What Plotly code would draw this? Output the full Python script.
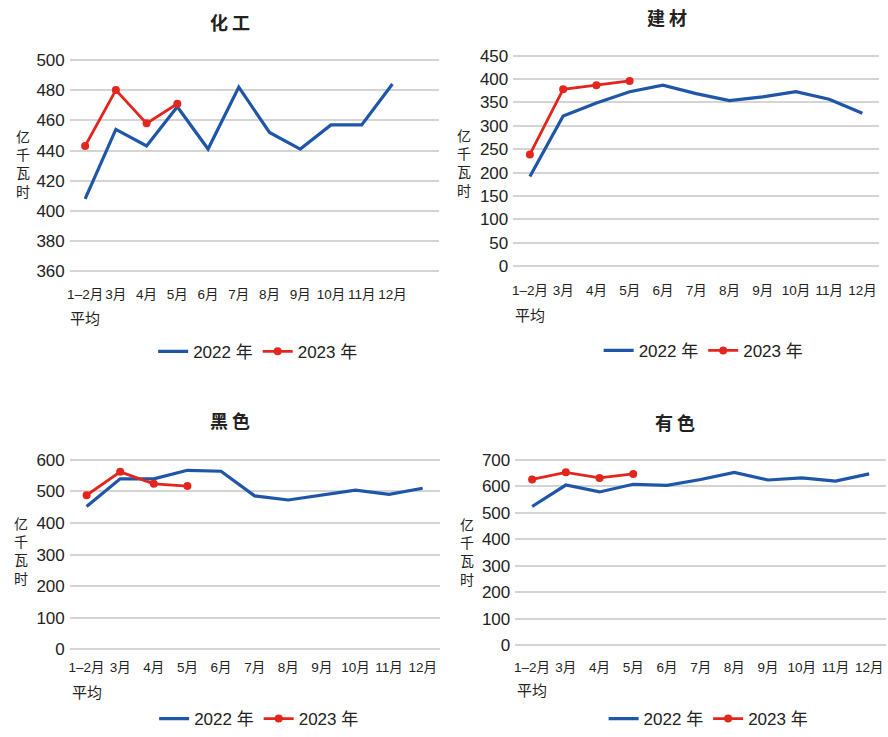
import plotly.graph_objects as go

# Monthly electricity consumption by industry (亿千瓦时)
months = ["1–2月", "3月", "4月", "5月", "6月", "7月", "8月", "9月", "10月", "11月", "12月"]
months_2023 = months[:4]

chem_2022 = [408, 454, 443, 469, 441, 482, 452, 441, 457, 457, 484]
chem_2023 = [443, 480, 458, 471]

build_2022 = [192, 321, 349, 373, 387, 369, 354, 362, 373, 357, 327]
build_2023 = [239, 378, 387, 396]

ferrous_2022 = [452, 540, 540, 567, 564, 486, 473, 488, 504, 491, 510]
ferrous_2023 = [488, 562, 524, 517]

nonferrous_2022 = [524, 605, 579, 608, 604, 626, 653, 624, 632, 620, 647]
nonferrous_2023 = [626, 653, 632, 647]

series_names = ["2022 年", "2023 年"]
unit_label = "亿<br>千<br>瓦<br>时"
avg_label = "平均"

W, H = 888, 737
BLUE = "#1f56a8"
RED = "#e3261d"
GRID = "#d4d4d4"
NUM_FONT = "Liberation Sans, Noto Sans CJK SC, sans-serif"
CJK_FONT = "Noto Sans CJK SC, sans-serif"

# panel layout in pixels: plot box, value range, and label placement
panels = [
    dict(title="化 工", y22=chem_2022, y23=chem_2023,
         x0=67, x1=437, ytop=55, ybot=271, vmax=500, vmin=360, dtick=20, xmax=11.5,
         title_xy=(228, 16), unit_xy=(20, 161), avg_y=318, legend_xy=(256, 353), standoff=10),
    dict(title="建 材", y22=build_2022, y23=build_2023,
         x0=512, x1=879, ytop=50.7, ybot=265.7, vmax=450, vmin=0, dtick=50, xmax=10.5,
         title_xy=(666, 11), unit_xy=(463, 160), avg_y=315, legend_xy=(703, 352), standoff=11),
    dict(title="黑 色", y22=ferrous_2022, y23=ferrous_2023,
         x0=67, x1=438, ytop=463.3, ybot=656.7, vmax=600, vmin=0, dtick=100, xmax=10.5,
         title_xy=(228, 423), unit_xy=(18, 556), avg_y=700, legend_xy=(257, 728), standoff=5),
    dict(title="有 色", y22=nonferrous_2022, y23=nonferrous_2023,
         x0=514, x1=886, ytop=463.3, ybot=652.7, vmax=700, vmin=0, dtick=100, xmax=10.5,
         title_xy=(674, 425), unit_xy=(466, 557), avg_y=698, legend_xy=(708, 728), standoff=9),
]

fig = go.Figure()
layout = dict(
    width=W, height=H,
    margin=dict(l=0, r=0, t=0, b=0),
    paper_bgcolor="white", plot_bgcolor="white",
    annotations=[],
)

PAD = 3  # pixels of breathing room around the outer gridlines

for i, p in enumerate(panels, start=1):
    sfx = "" if i == 1 else str(i)
    xa, ya = f"x{sfx}", f"y{sfx}"
    leg = f"legend{sfx}"

    px_per = (p["ybot"] - p["ytop"]) / (p["vmax"] - p["vmin"])
    pad_v = PAD / px_per

    layout[f"xaxis{sfx}"] = dict(
        domain=[p["x0"] / W, p["x1"] / W],
        anchor=ya, type="category",
        categoryorder="array", categoryarray=months,
        range=[-0.5, p["xmax"]],
        showgrid=False, zeroline=False, showline=False, ticks="",
        tickangle=0,
        ticklabelstandoff=p["standoff"],
        tickfont=dict(family=NUM_FONT, size=13.5, color="#222"),
    )
    layout[f"yaxis{sfx}"] = dict(
        domain=[1 - (p["ybot"] + PAD) / H, 1 - (p["ytop"] - PAD) / H],
        anchor=xa,
        range=[p["vmin"] - pad_v, p["vmax"] + pad_v],
        tick0=p["vmin"], dtick=p["dtick"],
        showgrid=True, gridcolor=GRID, gridwidth=2,
        zeroline=False, showline=False, ticks="",
        ticklabelstandoff=4,
        tickfont=dict(family=NUM_FONT, size=17, color="#222"),
    )
    layout[leg] = dict(
        orientation="h", x=p["legend_xy"][0] / W, y=1 - p["legend_xy"][1] / H,
        xanchor="center", yanchor="middle",
        font=dict(family=NUM_FONT, size=17, color="#222"),
        bgcolor="rgba(0,0,0,0)", itemwidth=30, traceorder="normal",
    )

    fig.add_trace(go.Scatter(
        x=months, y=p["y22"], name=series_names[0], mode="lines",
        line=dict(color=BLUE, width=3.2), xaxis=xa, yaxis=ya, legend=leg,
    ))
    fig.add_trace(go.Scatter(
        x=months_2023, y=p["y23"], name=series_names[1], mode="lines+markers",
        line=dict(color=RED, width=2.8),
        marker=dict(color=RED, size=8, symbol="circle"),
        xaxis=xa, yaxis=ya, legend=leg,
    ))

    layout["annotations"] += [
        dict(text=p["title"], xref="paper", yref="paper",
             x=p["title_xy"][0] / W, y=1 - p["title_xy"][1] / H,
             xanchor="center", yanchor="middle", showarrow=False,
             font=dict(family=CJK_FONT, size=18, color="#222", weight="bold")),
        dict(text=unit_label, xref="paper", yref="paper",
             x=p["unit_xy"][0] / W, y=1 - p["unit_xy"][1] / H,
             xanchor="center", yanchor="middle", showarrow=False,
             font=dict(family=CJK_FONT, size=14, color="#222")),
        dict(text=avg_label, xref=xa, yref="paper",
             x=months[0], y=1 - p["avg_y"] / H,
             xanchor="center", yanchor="middle", showarrow=False,
             font=dict(family=CJK_FONT, size=15, color="#222")),
    ]

fig.update_layout(**layout)
fig.write_html("out.html")
